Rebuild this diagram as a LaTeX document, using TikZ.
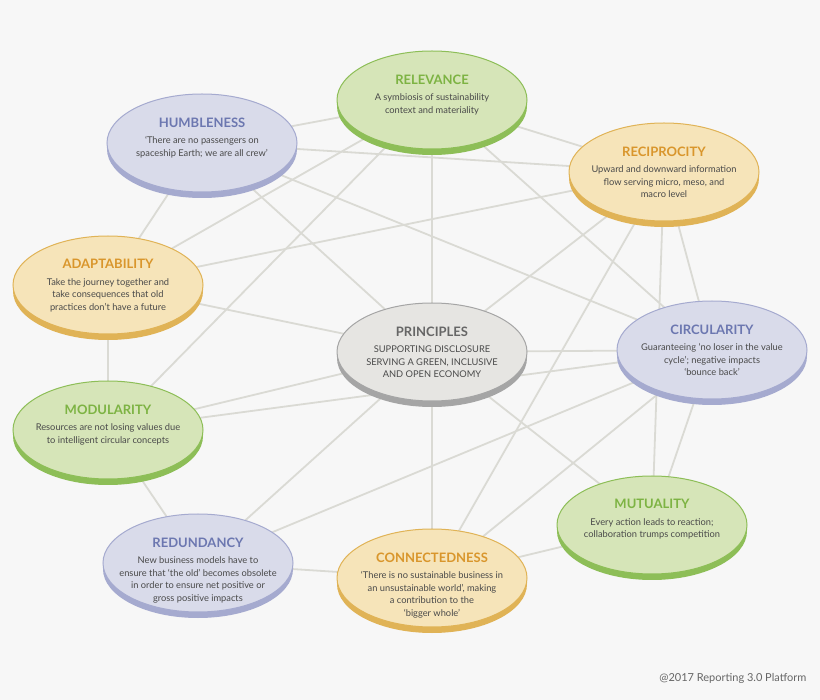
\documentclass[tikz,border=0pt]{standalone}
\usepackage{fontspec}
\setmainfont{Lato}
\usetikzlibrary{shapes.geometric}
\definecolor{gF}{HTML}{D6E5B8}\definecolor{gE}{HTML}{8DBE57}\definecolor{gT}{HTML}{7DB343}
\definecolor{lF}{HTML}{D9DBEA}\definecolor{lE}{HTML}{A5AACF}\definecolor{lT}{HTML}{6C77B0}
\definecolor{yF}{HTML}{F6E4B9}\definecolor{yE}{HTML}{E0B356}\definecolor{yT}{HTML}{D9962C}
\definecolor{pF}{HTML}{E6E5E2}\definecolor{pE}{HTML}{A5A5A5}\definecolor{pT}{HTML}{666666}
\definecolor{lineC}{HTML}{DADAD4}\definecolor{bodyC}{HTML}{4A4A4A}\definecolor{bgC}{HTML}{F7F7F7}
\newcommand\bub[8]{%
  \fill[#5] ({#2},{#3+6}) ellipse (95 and 49);
  \node[ellipse, fill=#4, draw=#5, line width=1pt, minimum width=190pt, minimum height=98pt, inner sep=0pt] (#1) at (#2,#3) {};
  \node[align=center, font=\fontsize{9.3}{12.5}\selectfont, text=bodyC, anchor=north] at ({#2},{#3-29}) {{\fontsize{13}{15}\selectfont\bfseries\color{#6}#7}\\[4pt]#8};
}
\begin{document}
\begin{tikzpicture}[x=1pt,y=-1pt, edge/.style={lineC, line width=1.8pt}]
\fill[bgC] (0,0) rectangle (820,700);
\useasboundingbox (0,0) rectangle (820,700);
\coordinate (cREL) at (432,100);
\coordinate (cHUM) at (202,143);
\coordinate (cREC) at (664,172);
\coordinate (cADA) at (108,285);
\coordinate (cPRI) at (432,352);
\coordinate (cCIR) at (712,350);
\coordinate (cMOD) at (108,430);
\coordinate (cMUT) at (652,525);
\coordinate (cRED) at (198,563);
\coordinate (cCON) at (432,578);
\foreach \a/\b in {HUM/REL,REL/REC,HUM/REC,HUM/ADA,REL/ADA,REL/MOD,REL/PRI,REL/CIR,HUM/PRI,HUM/CIR,
  REC/ADA,REC/PRI,REC/CIR,REC/CON,REC/MUT,ADA/MOD,ADA/PRI,PRI/MOD,PRI/CIR,CIR/MOD,PRI/CON,PRI/MUT,PRI/RED,
  CIR/MUT,CIR/CON,CIR/RED,MOD/RED,RED/CON,CON/MUT}
  \draw[edge] (c\a) -- (c\b);
\bub{REL}{432}{100}{gF}{gE}{gT}{RELEVANCE}{A symbiosis of sustainability\\context and materiality}
\bub{HUM}{202}{143}{lF}{lE}{lT}{HUMBLENESS}{‘There are no passengers on\\spaceship Earth; we are all crew’}
\bub{REC}{664}{172}{yF}{yE}{yT}{RECIPROCITY}{Upward and downward information\\flow serving micro, meso, and\\macro level}
\bub{ADA}{108}{285}{yF}{yE}{yT}{ADAPTABILITY}{Take the journey together and\\take consequences that old\\practices don’t have a future}
\bub{PRI}{432}{352}{pF}{pE}{pT}{PRINCIPLES}{SUPPORTING DISCLOSURE\\SERVING A GREEN, INCLUSIVE\\AND OPEN ECONOMY}
\bub{CIR}{712}{350}{lF}{lE}{lT}{CIRCULARITY}{Guaranteeing ‘no loser in the value\\cycle’; negative impacts\\‘bounce back’}
\bub{MOD}{108}{430}{gF}{gE}{gT}{MODULARITY}{Resources are not losing values due\\to intelligent circular concepts}
\bub{MUT}{652}{525}{gF}{gE}{gT}{MUTUALITY}{Every action leads to reaction;\\collaboration trumps competition}
\bub{RED}{198}{563}{lF}{lE}{lT}{REDUNDANCY}{New business models have to\\ensure that ‘the old’ becomes obsolete\\in order to ensure net positive or\\gross positive impacts}
\bub{CON}{432}{578}{yF}{yE}{yT}{CONNECTEDNESS}{‘There is no sustainable business in\\an unsustainable world’, making\\a contribution to the\\‘bigger whole’}
\node[anchor=east, text=pT, font=\fontsize{11}{13}\selectfont] (foot) at (810,678) {@2017 Reporting 3.0 Platform};
\end{tikzpicture}
\end{document}
